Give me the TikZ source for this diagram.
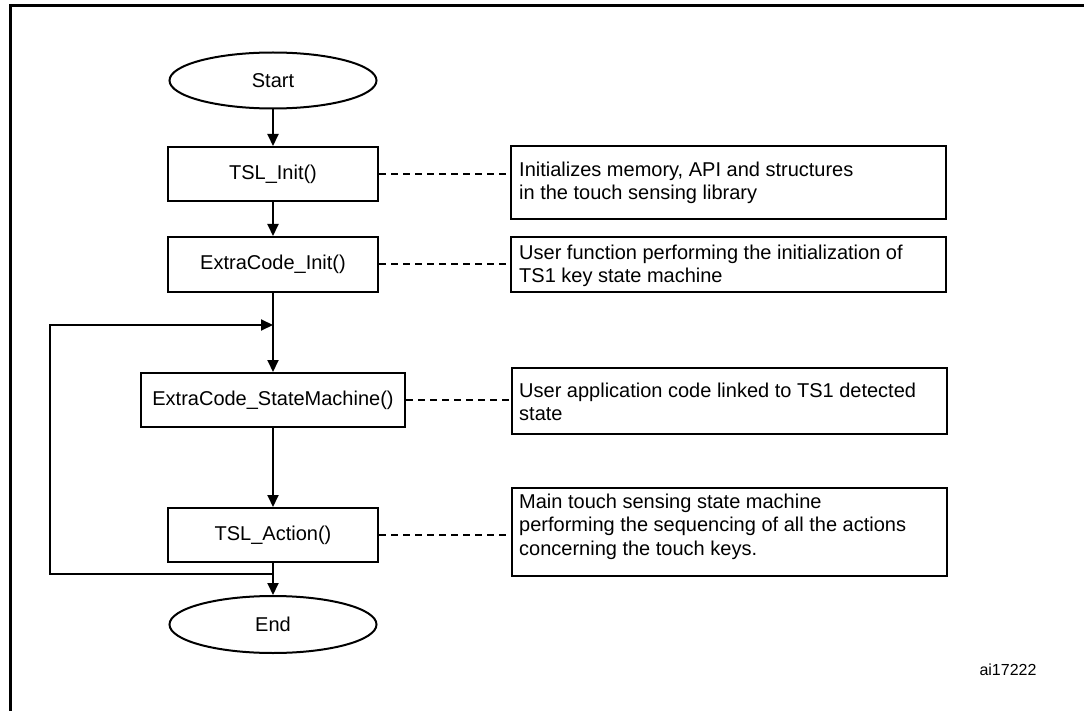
\documentclass[tikz,border=0pt]{standalone}
\usepackage{fontspec}
\setmainfont{Liberation Sans}
\usetikzlibrary{arrows.meta,shapes.geometric}
\begin{document}
\begin{tikzpicture}[x=1pt,y=-1pt,
  every node/.style={font=\fontsize{20}{23.5}\selectfont},
  flowbox/.style={draw,line width=2pt,rectangle,inner sep=0pt,minimum height=54pt},
  term/.style={draw,line width=2pt,ellipse,inner sep=0pt,minimum width=207pt,minimum height=56pt},
  infobox/.style={draw,line width=2pt,rectangle,inner sep=0pt,minimum width=435pt},
  infotext/.style={anchor=north west,inner sep=0pt,align=left},
  arr/.style={line width=2pt,-{Triangle[length=12pt,width=11pt]}},
  link/.style={line width=2pt,dash pattern=on 7pt off 5pt},
  plain/.style={line width=2pt}]
\useasboundingbox (0,0) rectangle (1084,711);
% frame
\draw[line width=3pt] (10,711) -- (10,6) -- (1084,6);
% flow nodes
\node[term] (start) at (273,80.5) {Start};
\node[flowbox,minimum width=210pt] (init) at (273,174) {TSL\_Init()};
\node[flowbox,minimum width=210pt,minimum height=55pt] (eci) at (273,264.5) {ExtraCode\_Init()};
\node[flowbox,minimum width=264pt] (sm) at (273,400) {ExtraCode\_StateMachine()};
\node[flowbox,minimum width=210pt] (act) at (273,535) {TSL\_Action()};
\node[term,minimum height=57pt] (end) at (273,624.5) {End};
% info boxes
\node[infobox,minimum height=73pt] (i1) at (728.5,182.5) {};
\node[infobox,minimum height=55pt] (i2) at (728.5,264.5) {};
\node[infobox,minimum height=66pt] (i3) at (729,401) {};
\node[infobox,minimum height=88pt] (i4) at (729,532) {};
\node[infotext] (t1) at (519,161) {\rule{0pt}{15pt}Initializes memory, API and structures\\in the touch sensing library};
\node[infotext] (t2) at (519,244) {\rule{0pt}{15pt}User function performing the initialization of\\TS1 key state machine};
\node[infotext] (t3) at (519,382) {\rule{0pt}{15pt}User application code linked to TS1 detected\\state};
\node[infotext] (t4) at (519,493) {\rule{0pt}{15pt}Main touch sensing state machine\\performing the sequencing of all the actions\\concerning the touch keys.};
\node[font=\fontsize{16}{19}\selectfont] (id) at (1008,670) {ai17222};
% connectors
\draw[arr] (start) -- (init);
\draw[arr] (init) -- (eci);
\draw[arr] (eci) -- (sm);
\draw[arr] (sm) -- (act);
\draw[arr] (act) -- (end);
\coordinate (lpa) at (273,574);
\coordinate (lpb) at (273,325);
\coordinate (lpc) at (50,574);
\draw[arr] (lpa) -- (lpc) |- (lpb);
% dashed links
\draw[link] (init.east) -- (init.east -| i1.west);
\draw[link] (eci.east) -- (eci.east -| i2.west);
\draw[link] (sm.east) -- (sm.east -| i3.west);
\draw[link] (act.east) -- (act.east -| i4.west);
\end{tikzpicture}
\end{document}
